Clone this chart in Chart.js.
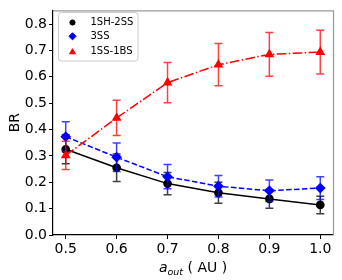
<!DOCTYPE html>
<html><head><meta charset="utf-8">
<script src="https://cdn.jsdelivr.net/npm/chart.js@4/dist/chart.umd.min.js"></script>
<style>html,body{margin:0;padding:0;background:#fff}#wrap{width:342px;height:280px;position:relative}</style>
</head><body><div id="wrap"><canvas id="c"></canvas></div>
<script>
const xValues = [0.5, 0.6, 0.7, 0.8, 0.9, 1.0];
const seriesNames = ['1SH-2SS', '3SS', '1SS-1BS'];
const br1SH2SS = [0.325, 0.255, 0.195, 0.160, 0.137, 0.114];
const err1SH2SS = [0.055, 0.052, 0.042, 0.040, 0.036, 0.033];
const br3SS = [0.373, 0.295, 0.221, 0.185, 0.168, 0.178];
const err3SS = [0.057, 0.054, 0.046, 0.041, 0.041, 0.043];
const br1SS1BS = [0.302, 0.444, 0.578, 0.646, 0.685, 0.694];
const err1SS1BS = [0.054, 0.067, 0.076, 0.080, 0.083, 0.083];
const xTicks = [0.5, 0.6, 0.7, 0.8, 0.9, 1.0];
const yTicks = [0.0, 0.1, 0.2, 0.3, 0.4, 0.5, 0.6, 0.7, 0.8];
const yAxisTitle = 'BR';
const xTitleMain = 'a', xTitleSub = 'out', xTitleUnit = ' ( AU )';

const FONT = 'DejaVu Sans';
const pts = (vals) => xValues.map((x, i) => ({x: x, y: vals[i]}));
const errs = [err1SH2SS, err3SS, err1SS1BS];
const legendRadius = [2.6, 3.6, 3.4];

const errorBars = {
  id: 'errorBars',
  beforeDatasetDraw(chart, args) {
    const i = args.index;
    const ds = chart.data.datasets[i];
    const xs = chart.scales.x, ys = chart.scales.y;
    const ctx = chart.ctx;
    ctx.save();
    ctx.globalAlpha = 0.75;
    ctx.strokeStyle = ds.borderColor;
    ctx.lineWidth = 1.5;
    ds.data.forEach((p, j) => {
      const e = errs[i][j];
      const px = xs.getPixelForValue(p.x);
      const y1 = ys.getPixelForValue(p.y + e), y2 = ys.getPixelForValue(p.y - e);
      ctx.beginPath();
      ctx.moveTo(px, y1); ctx.lineTo(px, y2);
      ctx.moveTo(px - 4, y1); ctx.lineTo(px + 4, y1);
      ctx.moveTo(px - 4, y2); ctx.lineTo(px + 4, y2);
      ctx.stroke();
    });
    ctx.restore();
  }
};

const frameAndText = {
  id: 'frameAndText',
  afterDraw(chart) {
    const ctx = chart.ctx, a = chart.chartArea;
    ctx.save();
    // top and right spines (grey)
    ctx.strokeStyle = '#999999';
    ctx.lineWidth = 1.2;
    ctx.beginPath();
    ctx.moveTo(a.left, a.top + 0.5); ctx.lineTo(a.right + 0.5, a.top + 0.5); ctx.lineTo(a.right + 0.5, a.bottom);
    ctx.stroke();
    // legend
    const lx = 58.5, ly = 12.5, lw = 79.5, lh = 48.5;
    ctx.fillStyle = 'rgba(255,255,255,0.85)';
    ctx.strokeStyle = '#cccccc';
    ctx.lineWidth = 1;
    ctx.beginPath();
    if (ctx.roundRect) ctx.roundRect(lx, ly, lw, lh, 3); else ctx.rect(lx, ly, lw, lh);
    ctx.fill(); ctx.stroke();
    const rowY = [22.5, 36.3, 51.3];
    chart.data.datasets.forEach((ds, i) => {
      ctx.fillStyle = ds.pointBackgroundColor;
      ctx.strokeStyle = ds.pointBackgroundColor;
      ctx.lineWidth = 1;
      Chart.helpers.drawPoint(ctx, {
        pointStyle: ds.pointStyle, radius: legendRadius[i], rotation: 0, borderWidth: 1
      }, 72.5, rowY[i] + (ds.pointStyle === 'triangle' ? 0.8 : 0));
      ctx.fillStyle = '#000';
      ctx.font = '10px "' + FONT + '"';
      ctx.textBaseline = 'middle';
      ctx.textAlign = 'left';
      ctx.fillText(ds.label, 90.5, rowY[i]);
    });
    // x axis title with subscript
    const fMain = 'italic 14px "' + FONT + '"';
    const fSub = 'italic 9.5px "' + FONT + '"';
    const fUnit = '14px "' + FONT + '"';
    ctx.font = fMain; const w1 = ctx.measureText(xTitleMain).width;
    ctx.font = fSub; const w2 = ctx.measureText(xTitleSub).width;
    ctx.font = fUnit; const w3 = ctx.measureText(xTitleUnit).width;
    const total = w1 + w2 + w3;
    let x0 = (a.left + a.right) / 2 - total / 2;
    const base = 272.3;
    ctx.fillStyle = '#000';
    ctx.textBaseline = 'alphabetic';
    ctx.textAlign = 'left';
    ctx.font = fMain; ctx.fillText(xTitleMain, x0, base); x0 += w1;
    ctx.font = fSub; ctx.fillText(xTitleSub, x0, base + 2.5); x0 += w2;
    ctx.font = fUnit; ctx.fillText(xTitleUnit, x0, base);
    ctx.restore();
  }
};

new Chart(document.getElementById('c'), {
  type: 'line',
  data: {
    datasets: [
      {label: seriesNames[0], data: pts(br1SH2SS), borderColor: '#000000', backgroundColor: '#000000',
       pointBackgroundColor: '#000000', pointBorderColor: '#000000', pointStyle: 'circle', pointRadius: 3.6,
       borderWidth: 1.5, order: 2},
      {label: seriesNames[1], data: pts(br3SS), borderColor: '#0000ff', backgroundColor: '#0000ff',
       pointBackgroundColor: '#0000ff', pointBorderColor: '#0000ff', pointStyle: 'rectRot', pointRadius: 4.3,
       borderWidth: 1.5, borderDash: [5.5, 2.4], order: 1},
      {label: seriesNames[2], data: pts(br1SS1BS), borderColor: '#ff0000', backgroundColor: '#ff0000',
       pointBackgroundColor: '#ff0000', pointBorderColor: '#ff0000', pointStyle: 'triangle', pointRadius: 4.2,
       borderWidth: 1.5, borderDash: [9.6, 2.4, 1.5, 2.4], order: 0}
    ]
  },
  options: {
    responsive: true, maintainAspectRatio: false, animation: false,
    events: [],
    layout: {padding: {top: 9, right: 9, left: 0, bottom: 0}},
    plugins: {legend: {display: false}, tooltip: {enabled: false}},
    elements: {line: {tension: 0, fill: false}, point: {borderWidth: 1}},
    scales: {
      x: {
        type: 'linear', min: 0.475, max: 1.025,
        afterBuildTicks: s => { s.ticks = xTicks.map(v => ({value: v})); },
        afterFit: s => { s.height = 45; },
        grid: {display: true, drawOnChartArea: false, drawTicks: true, tickLength: 4, color: '#000', tickWidth: 1},
        border: {display: true, color: '#000', width: 1.2},
        ticks: {color: '#000', font: {family: FONT, size: 14}, padding: 2, maxRotation: 0,
                callback: v => Number(v).toFixed(1)}
      },
      y: {
        type: 'linear', min: 0, max: 0.852,
        afterBuildTicks: s => { s.ticks = yTicks.map(v => ({value: v})); },
        afterFit: s => { s.width = 53; },
        grid: {display: true, drawOnChartArea: false, drawTicks: true, tickLength: 4, color: '#000', tickWidth: 1},
        border: {display: true, color: '#000', width: 1.2},
        title: {display: true, text: yAxisTitle, color: '#000', font: {family: FONT, size: 14}, padding: {top: 7, bottom: 0}},
        ticks: {color: '#000', font: {family: FONT, size: 14}, padding: 2,
                callback: v => Number(v).toFixed(1)}
      }
    }
  },
  plugins: [errorBars, frameAndText]
});
</script>
</body></html>
